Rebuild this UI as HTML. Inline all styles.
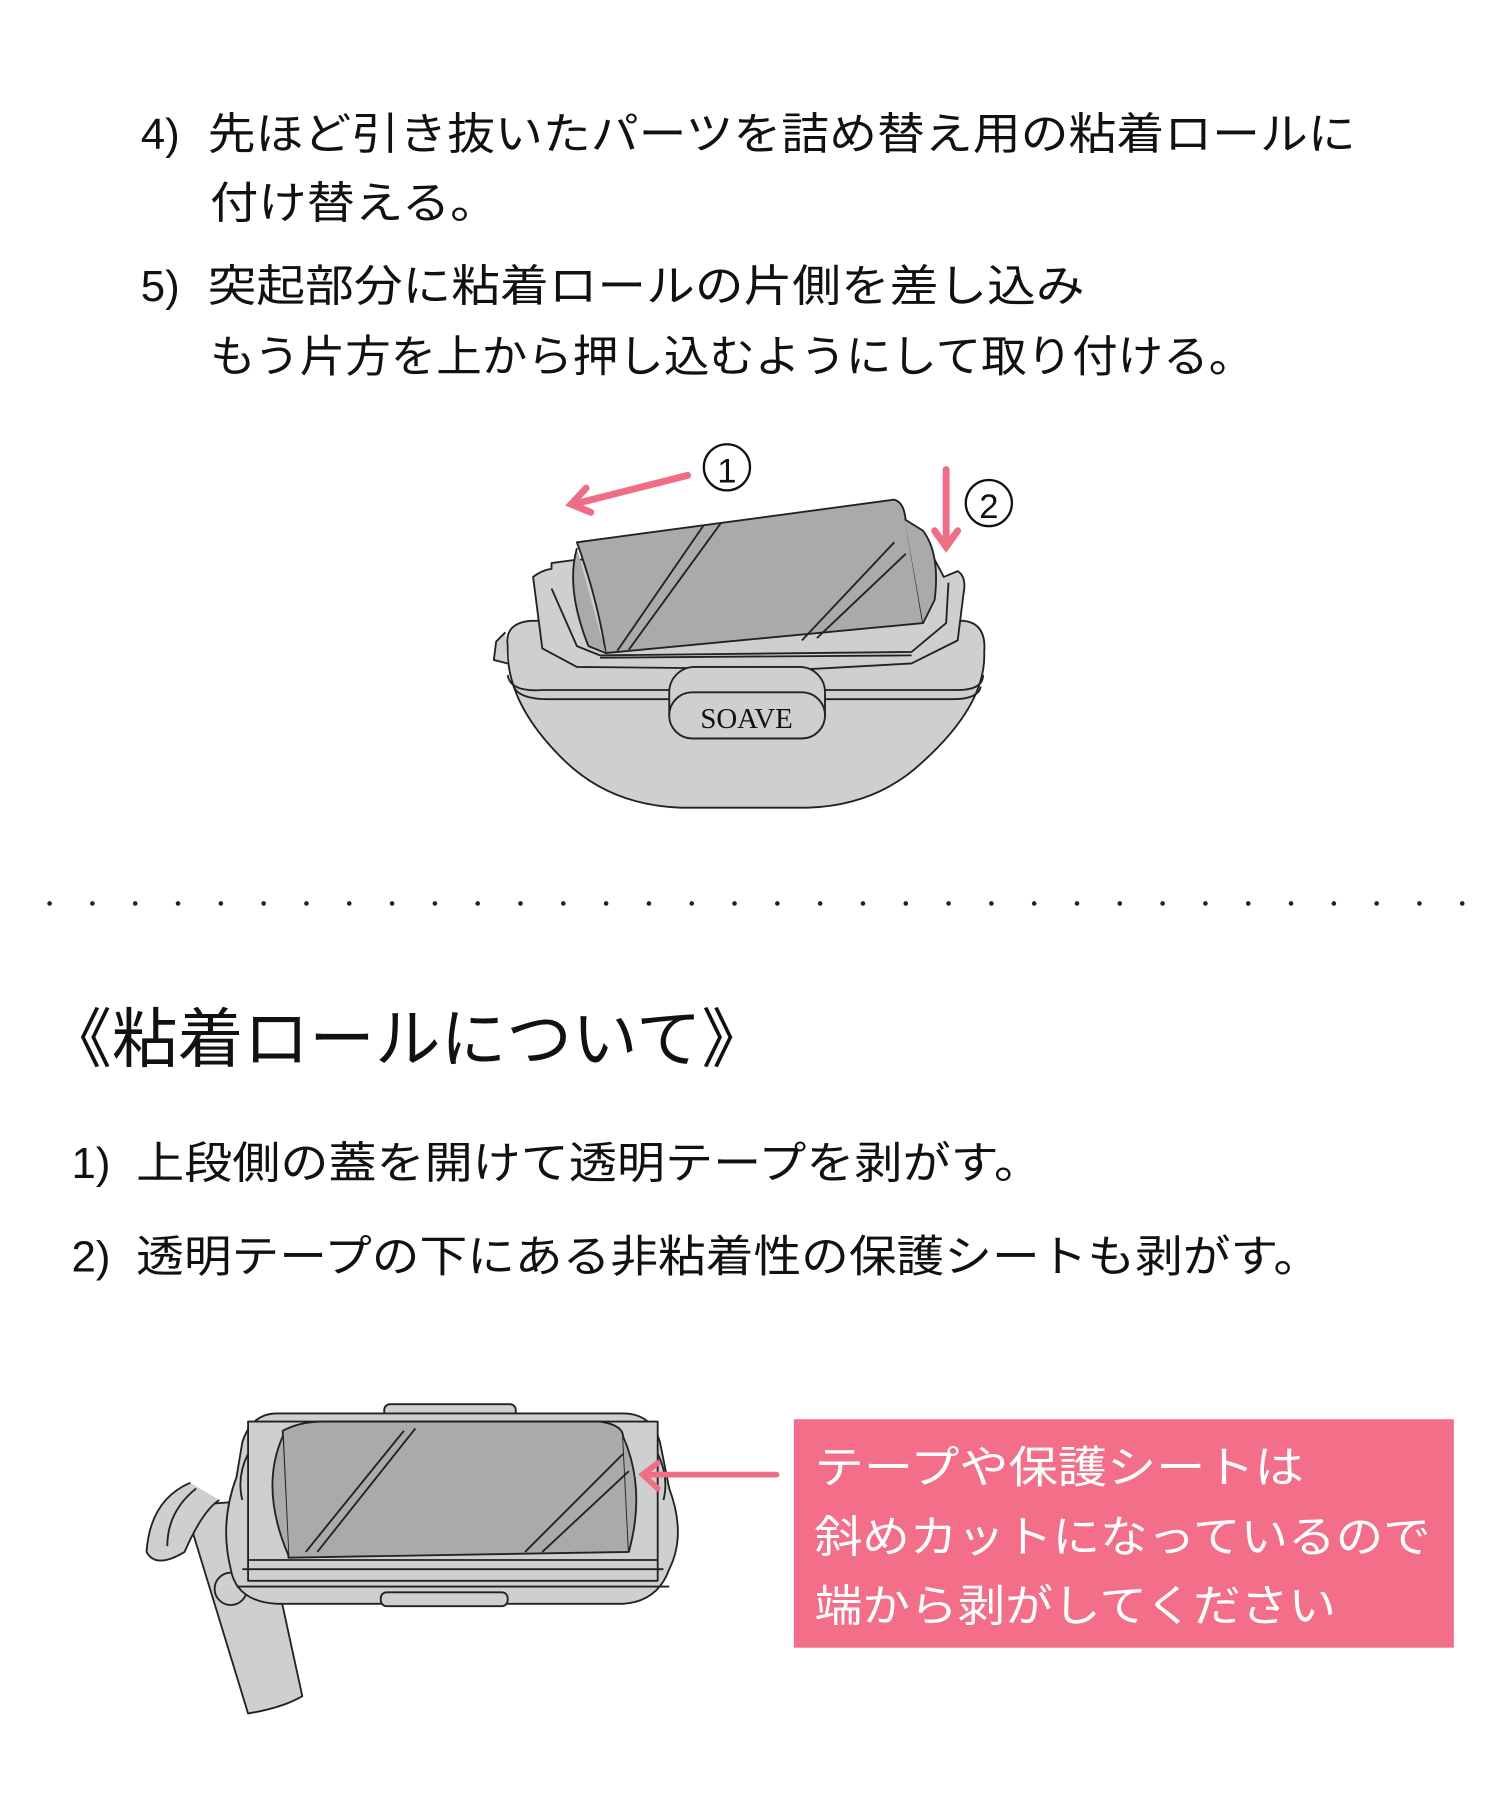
<!DOCTYPE html>
<html><head><meta charset="utf-8"><style>
html,body{margin:0;padding:0;background:#fff;}
svg{display:block;}
text{font-family:"Liberation Sans","Noto Sans CJK JP",sans-serif;}
</style></head><body>
<svg width="1500" height="1800" viewBox="0 0 1300 1560" xmlns="http://www.w3.org/2000/svg">
<g fill="#111" font-size="38">
<text x="122" y="129">4)</text>
<text x="180" y="129" textLength="995" lengthAdjust="spacingAndGlyphs">先ほど引き抜いたパーツを詰め替え用の粘着ロールに</text>
<text x="182" y="189" textLength="250" lengthAdjust="spacingAndGlyphs">付け替える。</text>
<text x="122" y="261">5)</text>
<text x="180" y="261" textLength="760" lengthAdjust="spacingAndGlyphs">突起部分に粘着ロールの片側を差し込み</text>
<text x="182" y="322" textLength="905" lengthAdjust="spacingAndGlyphs">もう片方を上から押し込むようにして取り付ける。</text>
</g>

<!-- illustration 1 -->
<g stroke="#222" stroke-width="1.6" stroke-linejoin="round">
<path d="M440 560 Q437 540 460 538 L835 538 Q855 540 853 565 Q855 610 800 660 Q760 698 700 700 L590 700 Q530 698 490 660 Q438 610 440 560 Z" fill="#cfcfcf"/>
<path d="M440 585 Q442 600 470 598 L580 598 M715 598 L830 598 Q852 598 852 585" fill="none"/>
<path d="M445 595 Q450 606 475 606 L580 606 M715 606 L825 606 Q848 606 850 595" fill="none"/>
<path d="M438 548 L430 556 L428 572 L440 575" fill="#cfcfcf"/>
<path d="M462 500 Q470 494 478 493 L478 488 L500 485 L810 485 L818 500 L830 495 Q838 500 835 515 L830 555 L790 575 L700 580 L500 578 L470 562 Z" fill="#cfcfcf"/>
<path d="M478 510 L500 560 L520 568 L790 565 L820 540 L822 505" fill="none"/>
<path d="M520 570 L790 568" fill="none"/>
<path d="M500 470 L775 433 Q782 435 784 445 L800 540 L525 566 Q518 520 500 470 Z" fill="#aaaaaa"/>
<path d="M784 450 L800 460 Q815 480 810 520 L800 540" fill="#aaaaaa"/>
<path d="M500 475 Q490 510 510 560 L525 566" fill="#aaaaaa"/>
<path d="M535 564 L610 455 M545 563 L625 453 M695 555 L775 470 M708 553 L785 480" fill="none"/>
<rect x="580" y="578" width="135" height="62" rx="22" fill="#cfcfcf"/>
<rect x="580" y="600" width="135" height="40" rx="20" fill="#cfcfcf"/>
</g>
<text x="647" y="631" font-size="25" text-anchor="middle" fill="#111" style="font-family:'Liberation Serif',serif">SOAVE</text>
<g stroke="#ef6d85" stroke-width="6" fill="none" stroke-linecap="round">
<path d="M596 412 L497 437"/><path d="M508 423 L495 437 L512 444"/>
<path d="M820 407 L820 472"/><path d="M810 460 L820 474 L830 460"/>
</g>
<g fill="none" stroke="#111" stroke-width="2"><circle cx="630" cy="405" r="20"/><circle cx="857" cy="436" r="20"/></g>
<text x="630" y="418" font-size="30" text-anchor="middle" fill="#111">1</text>
<text x="857" y="449" font-size="30" text-anchor="middle" fill="#111">2</text>

<!-- dotted line -->
<line x1="43" y1="783" x2="1268" y2="783" stroke="#222" stroke-width="4" stroke-linecap="round" stroke-dasharray="0 37.1"/>

<text x="40" y="920" font-size="56" fill="#111" textLength="625" lengthAdjust="spacingAndGlyphs">《粘着ロールについて》</text>
<g fill="#111" font-size="38">
<text x="62" y="1021">1)</text>
<text x="118" y="1021" textLength="785" lengthAdjust="spacingAndGlyphs">上段側の蓋を開けて透明テープを剥がす。</text>
<text x="62" y="1102">2)</text>
<text x="118" y="1102" textLength="1027" lengthAdjust="spacingAndGlyphs">透明テープの下にある非粘着性の保護シートも剥がす。</text>
</g>

<!-- illustration 2 -->
<g stroke="#222" stroke-width="1.6" stroke-linejoin="round">
<path d="M160 1305 L215 1485 Q245 1480 262 1470 L225 1300 Z" fill="#cfcfcf"/>
<circle cx="200" cy="1377" r="14" fill="#cfcfcf"/>
<path d="M165 1285 Q130 1300 127 1345 Q135 1360 160 1345 Q175 1310 190 1300" fill="#cfcfcf"/>
<path d="M170 1290 Q145 1310 145 1340" fill="none"/>
<rect x="333" y="1217" width="114" height="18" rx="5" fill="#cfcfcf"/>
<path d="M240 1225 L540 1225 Q565 1225 572 1250 L580 1290 Q595 1330 580 1360 Q570 1388 540 1390 L240 1390 Q205 1388 200 1360 Q190 1320 205 1280 L210 1250 Q218 1225 240 1225 Z" fill="#cfcfcf"/>
<rect x="330" y="1380" width="110" height="12" rx="5" fill="#cfcfcf"/>
<path d="M215 1232 L570 1232 L570 1370 L215 1370 Z" fill="#cfcfcf"/>
<path d="M215 1352 L570 1352 M210 1360 L575 1360 M205 1375 L580 1375" fill="none"/>
<path d="M245 1240 Q260 1232 280 1232 L520 1232 Q540 1235 540 1245 L545 1345 L250 1350 Z" fill="#aaaaaa"/>
<path d="M245 1245 Q225 1290 250 1348 M540 1245 Q560 1290 545 1345" fill="#aaaaaa"/>
<path d="M265 1345 L350 1240 M275 1345 L360 1238 M455 1345 L540 1260 M470 1345 L545 1275" fill="none"/>
<path d="M215 1260 Q205 1280 210 1300 M570 1260 Q580 1280 575 1300" fill="none"/>
</g>
<g stroke="#ef6d85" stroke-width="5" fill="none" stroke-linecap="round">
<path d="M673 1278 L560 1278"/><path d="M570 1268 L557 1278 L570 1290"/>
</g>
<rect x="688" y="1230" width="572" height="198" fill="#f36e88"/>
<g fill="#fff" font-size="38">
<text x="706" y="1285" textLength="424" lengthAdjust="spacingAndGlyphs">テープや保護シートは</text>
<text x="706" y="1345" textLength="534" lengthAdjust="spacingAndGlyphs">斜めカットになっているので</text>
<text x="706" y="1405" textLength="452" lengthAdjust="spacingAndGlyphs">端から剥がしてください</text>
</g>
</svg>
</body></html>
